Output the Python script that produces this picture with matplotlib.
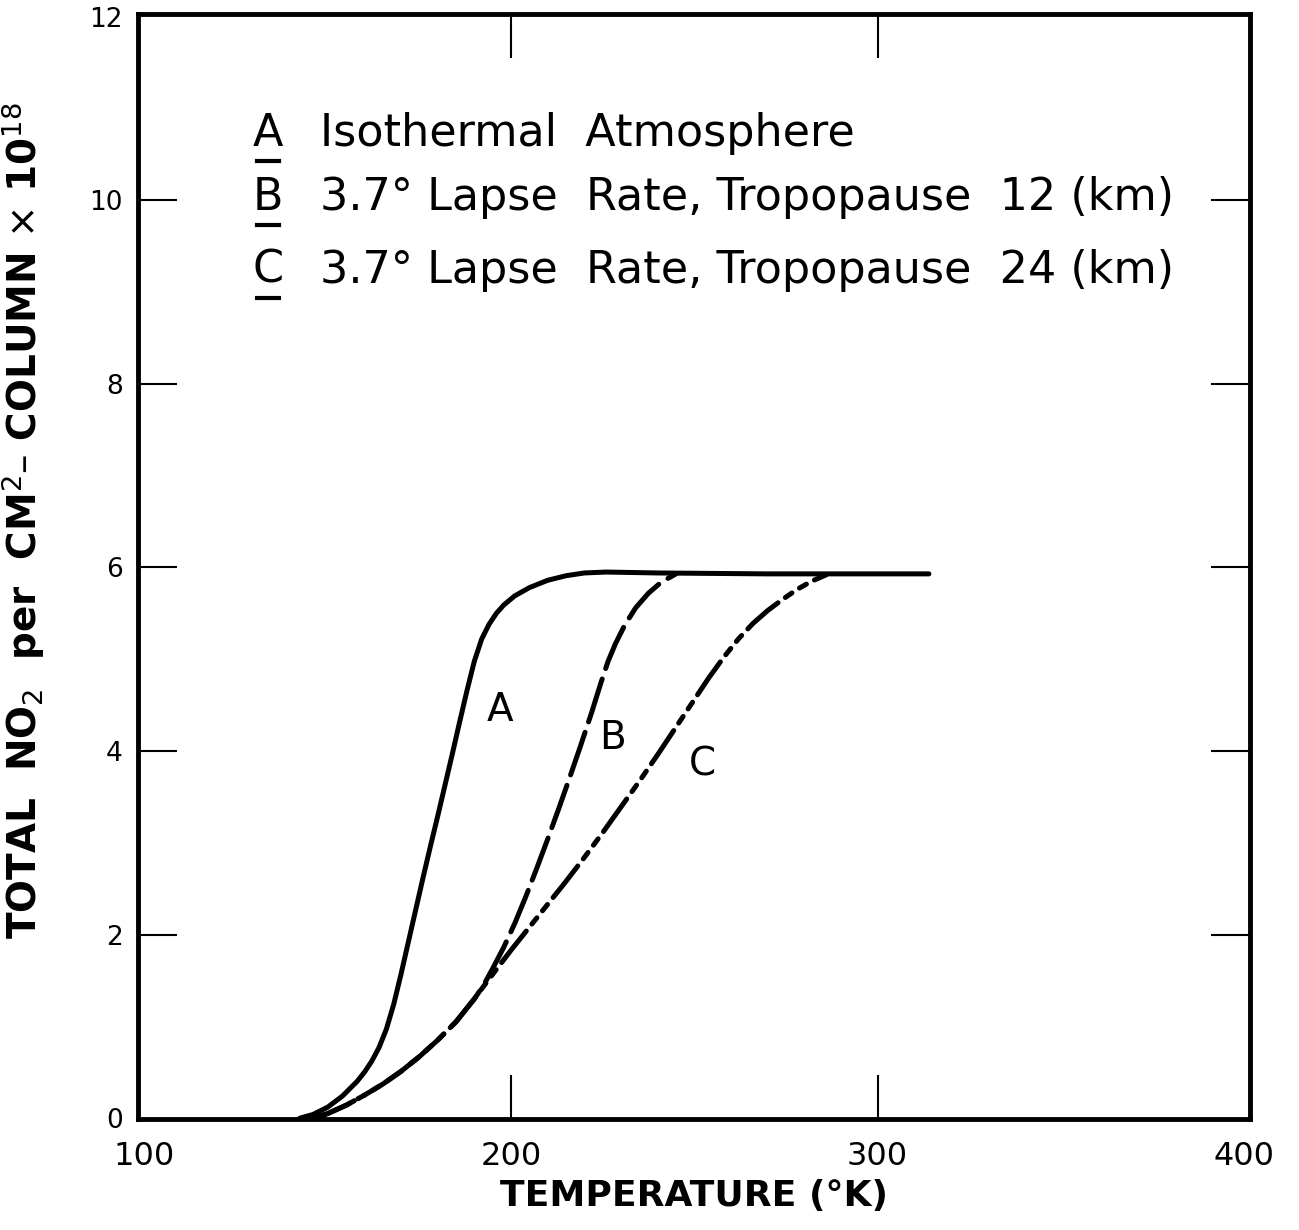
import matplotlib
matplotlib.use('Agg')
from matplotlib import pyplot as plt


# curve A: isothermal atmosphere
temp_a = [142.4, 146, 150, 154, 158, 160, 162, 164, 166, 168, 170, 172, 174, 176,
          178, 180, 182, 184, 186, 188, 190, 192, 194, 196, 198, 201, 205, 210,
          215, 220, 226, 240, 270, 300, 314]
no2_a = [0.0, 0.04, 0.12, 0.24, 0.4, 0.5, 0.62, 0.77, 0.97, 1.24, 1.57, 1.92,
         2.27, 2.62, 2.96, 3.29, 3.63, 3.97, 4.32, 4.66, 4.98, 5.22, 5.38, 5.5,
         5.59, 5.69, 5.78, 5.86, 5.91, 5.94, 5.95, 5.94, 5.93, 5.93, 5.93]

# curve B: 3.7 deg lapse rate, tropopause 12 km
temp_b = [146, 150, 155, 160, 165, 170, 175, 180, 185, 190, 192.4, 195, 198, 201,
          204, 207, 210, 213, 216, 219, 222, 224.5, 226.5, 228.5, 231, 234, 237.5,
          241, 245]
no2_b = [0.0, 0.05, 0.14, 0.25, 0.37, 0.51, 0.67, 0.85, 1.05, 1.3, 1.44, 1.63,
         1.86, 2.12, 2.41, 2.72, 3.04, 3.37, 3.71, 4.06, 4.42, 4.74, 4.98, 5.17,
         5.37, 5.56, 5.72, 5.84, 5.93]

# curve C: 3.7 deg lapse rate, tropopause 24 km
temp_c = [146, 150, 155, 160, 165, 170, 175, 180, 185, 190, 192.4, 196, 200, 205,
          210, 215, 220, 225, 230, 235, 240, 245, 250, 254, 258, 262, 266, 270,
          274, 278, 282, 286]
no2_c = [0.0, 0.05, 0.14, 0.25, 0.37, 0.51, 0.67, 0.85, 1.05, 1.3, 1.43, 1.62,
         1.83, 2.08, 2.33, 2.58, 2.84, 3.11, 3.39, 3.67, 3.96, 4.26, 4.56, 4.8,
         5.02, 5.22, 5.39, 5.53, 5.65, 5.76, 5.85, 5.92]

curve_labels = ['A', 'B', 'C']
label_pos = [(197, 4.45), (227.6, 4.14), (252.1, 3.85)]

legend_keys = ['A', 'B', 'C']
legend_text = ['Isothermal  Atmosphere',
               '3.7\u00b0 Lapse  Rate, Tropopause  12 (km)',
               '3.7\u00b0 Lapse  Rate, Tropopause  24 (km)']

x_ticks = [100, 200, 300, 400]
y_ticks = [0, 2, 4, 6, 8, 10, 12]

plt.rcParams['font.family'] = ['DejaVu Sans']

fig = plt.figure(figsize=(12.99, 12.30), dpi=100)
ax = fig.add_axes([0.1062, 0.0902, 0.8561, 0.8984])

lw = 3.6
ax.plot(temp_a, no2_a, '-k', linewidth=lw, solid_capstyle='round',
        solid_joinstyle='round')
ax.plot(temp_b, no2_b, color='k', linewidth=lw, dashes=(9, 2.2),
        dash_capstyle='round', dash_joinstyle='round')
ax.plot(temp_c, no2_c, color='k', linewidth=lw,
        dashes=(8, 1.8, 1.6, 1.8, 1.6, 1.8), dash_capstyle='round',
        dash_joinstyle='round')

for lbl, (tx, ty) in zip(curve_labels, label_pos):
    ax.text(tx, ty, lbl, fontsize=28, ha='center', va='center')

ax.set_xlim(98.23, 401.6)
ax.set_ylim(-0.01, 12.03)

ax.set_xticks(x_ticks)
ax.set_xticklabels([str(v) for v in x_ticks])
ax.set_yticks(y_ticks)
ax.set_yticklabels([str(v) for v in y_ticks])

ax.tick_params(axis='x', which='major', direction='in', length=32, width=1.5,
               top=True, bottom=True, labelsize=23, pad=16)
ax.tick_params(axis='y', which='major', direction='in', length=28, width=1.5,
               left=True, right=True, labelsize=19, pad=11)

# no tick marks on the corners
for tick in (ax.xaxis.get_major_ticks()[0], ax.xaxis.get_major_ticks()[-1]):
    tick.tick1line.set_visible(False)
    tick.tick2line.set_visible(False)
for tick in (ax.yaxis.get_major_ticks()[0], ax.yaxis.get_major_ticks()[-1]):
    tick.tick1line.set_visible(False)
    tick.tick2line.set_visible(False)

for spine in ax.spines.values():
    spine.set_linewidth(3.5)

ax.set_xlabel('TEMPERATURE (\u00b0K)', fontsize=26, fontweight='bold')
ax.xaxis.set_label_coords(0.5, -0.054)
ax.set_ylabel('TOTAL  NO$_2$  per  CM$^2$\u2013 COLUMN $\\times$ 10$^{18}$',
              fontsize=28, fontweight='bold')
ax.yaxis.set_label_coords(-0.082, 0.542)

# legend block with underlined keys
line_y = [0.881, 0.823, 0.757]
for key, txt, yy in zip(legend_keys, legend_text, line_y):
    ax.text(0.117, yy, key, transform=ax.transAxes, fontsize=32,
            ha='center', va='baseline')
    ax.plot([0.107, 0.127], [yy - 0.0136, yy - 0.0136], transform=ax.transAxes,
            color='k', linewidth=3, clip_on=False)
    ax.text(0.164, yy, txt, transform=ax.transAxes, fontsize=32,
            ha='left', va='baseline')

plt.savefig('out.png', dpi=100)
plt.close()
